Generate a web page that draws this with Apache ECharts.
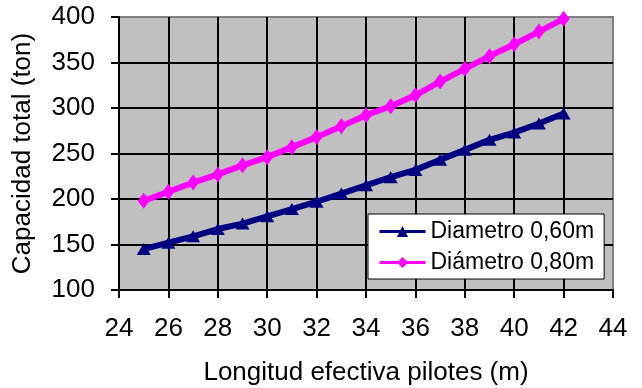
<!DOCTYPE html>
<html>
<head>
<meta charset="utf-8">
<script src="https://cdn.jsdelivr.net/npm/echarts@6/dist/echarts.min.js"></script>
<style>
  html, body { margin: 0; padding: 0; background: #fff; }
  #chart { width: 642px; height: 388px; }
</style>
</head>
<body>
<div id="chart"></div>
<script>
// Effective pile length (m)
const lengths = [25, 26, 27, 28, 29, 30, 31, 32, 33, 34, 35, 36, 37, 38, 39, 40, 41, 42];
// Total capacity (ton) for each pile diameter
const capacity060 = [145, 152, 159, 167, 173, 181, 189, 197, 206, 215, 224, 232, 243, 254, 265, 273, 283, 294];
const capacity080 = [198, 208, 218, 227, 237, 246, 257, 268, 280, 292, 302, 314, 329, 343, 357, 370, 384, 398];
const seriesNames = ['Diametro 0,60m', 'Diámetro 0,80m'];

const FONT = '"Liberation Sans", Arial, sans-serif';

const chart = echarts.init(document.getElementById('chart'), null, { renderer: 'canvas' });

const pairs = ys => lengths.map((x, i) => [x, ys[i]]);

chart.setOption({
  animation: false,
  backgroundColor: '#ffffff',
  textStyle: { fontFamily: FONT, color: '#000' },
  grid: {
    left: 119, right: 29, top: 17, bottom: 98,
    containLabel: false,
    outerBoundsMode: 'none',
    show: true,
    backgroundColor: '#c0c0c0',
    borderColor: '#808080',
    borderWidth: 2
  },
  xAxis: {
    type: 'value',
    min: 24, max: 44, interval: 2,
    name: 'Longitud efectiva pilotes (m)',
    nameLocation: 'middle',
    nameGap: 70,
    nameMoveOverlap: false,
    nameTextStyle: { fontFamily: FONT, fontSize: 26, color: '#000' },
    axisLine: { show: true, onZero: false, lineStyle: { color: '#000', width: 2 } },
    axisTick: { show: true, length: 8, lineStyle: { color: '#000', width: 2 } },
    axisLabel: { fontFamily: FONT, fontSize: 26, color: '#000', margin: 26 },
    splitLine: { show: true, showMaxLine: false, lineStyle: { color: '#000', width: 2 } }
  },
  yAxis: {
    type: 'value',
    min: 100, max: 400, interval: 50,
    name: 'Capacidad total (ton)',
    nameLocation: 'middle',
    nameGap: 83,
    nameMoveOverlap: false,
    nameTextStyle: { fontFamily: FONT, fontSize: 26, color: '#000' },
    axisLine: { show: true, lineStyle: { color: '#000', width: 2 } },
    axisTick: { show: true, length: 8, lineStyle: { color: '#000', width: 2 } },
    axisLabel: { fontFamily: FONT, fontSize: 26, color: '#000', margin: 24 },
    splitLine: { show: true, showMaxLine: false, lineStyle: { color: '#000', width: 2 } }
  },
  legend: {
    orient: 'vertical',
    left: 368, top: 214,
    backgroundColor: '#ffffff',
    borderColor: '#000',
    borderWidth: 1,
    borderRadius: 0,
    padding: [6, 10, 5, 10],
    itemWidth: 46,
    itemHeight: 14,
    itemGap: 8,
    lineStyle: { width: 3 },
    textStyle: { fontFamily: FONT, fontSize: 23, color: '#000' },
    data: seriesNames
  },
  series: [
    {
      name: seriesNames[0],
      type: 'line',
      data: pairs(capacity060),
      symbol: 'triangle',
      symbolSize: [14, 12],
      color: '#000080',
      lineStyle: { color: '#000080', width: 6 },
      itemStyle: { color: '#000080' }
    },
    {
      name: seriesNames[1],
      type: 'line',
      data: pairs(capacity080),
      symbol: 'diamond',
      symbolSize: [12, 16],
      color: '#ff00ff',
      lineStyle: { color: '#ff00ff', width: 6 },
      itemStyle: { color: '#ff00ff' }
    }
  ]
});
</script>
</body>
</html>
